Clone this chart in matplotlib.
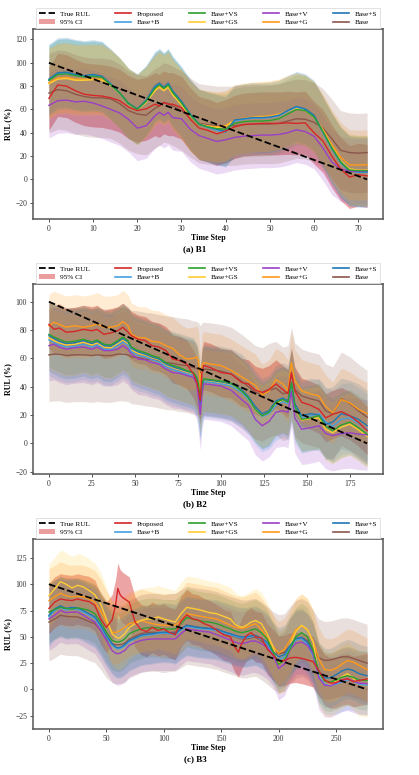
import numpy as np
import matplotlib
matplotlib.use("Agg")
import matplotlib.pyplot as plt
from matplotlib.lines import Line2D
from matplotlib.patches import Patch

plt.rcParams['font.family'] = 'serif'
plt.rcParams['font.serif'] = ['Liberation Serif', 'DejaVu Serif']

# ---- data (RUL in %) ----
labels = ['Proposed', 'Base+VS', 'Base+V', 'Base+S', 'Base+B', 'Base+GS', 'Base+G', 'Base']
colors = ['#d62728', '#2ca02c', '#9a3fc8', '#1f77b4', '#45a0e0', '#ffcc33', '#ff9a1a', '#8c564b']

# B1
b1_t = [0, 2, 4, 6, 8, 10, 12, 14, 16, 18, 20, 22, 24, 25, 26, 27, 28, 30, 32, 34, 36, 38, 40,
        42, 44, 46, 48, 50, 52, 54, 56, 58, 60, 62, 64, 66, 68, 70, 72]
b1_proposed = [69.5, 81, 80, 76, 73, 72, 71.5, 70, 67.5, 62, 59, 60.5, 64.5, 63, 66, 64.5, 64.5, 61.5, 51.5, 44,
               42, 39, 41.5, 45, 47, 47.5, 48, 48, 48, 48.5, 48, 48.5, 40, 33, 20, 9, 2, 4, 3]
b1_vs = [85, 90, 90.5, 89, 88, 88.5, 87.5, 81, 74, 65, 60, 67, 78, 81, 78, 81, 74.5, 65.5, 55, 47,
         45, 43.5, 43, 48, 49.5, 50, 50, 50.5, 52, 56, 60, 59, 53.5, 41, 27, 15, 8, 7.5, 7.5]
b1_v = [63.5, 67.5, 68, 66.5, 67, 65.5, 63, 60, 57, 51.5, 44, 46, 54.5, 57.5, 55, 57.5, 53, 52, 43, 37.5,
        35, 32.5, 34, 36, 37, 37.5, 38, 38, 38.5, 40, 42.5, 41, 37, 27, 15, 9, 7, 7, 7]
b1_s = [86, 91.5, 92, 90, 89, 90, 88.5, 82, 74.5, 65.5, 60.5, 68, 80, 82.5, 79, 82.5, 76, 67, 56, 47.5,
        45, 43, 41, 51, 52, 53, 53, 53.5, 55, 59, 62.5, 60.5, 55, 41, 27, 15, 7, 6.5, 6.5]
b1_b = [85, 90.5, 91, 89.5, 88, 89, 88, 81, 74, 65, 60, 67, 79, 81.5, 78, 81.5, 75, 66, 55, 47,
        44.5, 42, 40.5, 50, 51.5, 52.5, 52.5, 53, 54.5, 58.5, 62, 60, 54, 40, 26, 14, 7.5, 6, 6]
b1_gs = [82, 86, 86.5, 85, 85, 85.5, 85, 80.5, 74, 65, 59.5, 66, 76, 79, 76, 79, 72.5, 64, 54, 47,
         45.5, 44.5, 45.5, 50.5, 52, 53, 53.5, 54, 55.5, 58.5, 61, 59, 53.5, 42, 28, 16, 9, 8, 8]
b1_g = [83, 87, 87.5, 86, 86, 86, 86, 81.5, 74.5, 65.5, 60, 67, 77, 80, 77, 80, 73, 64.5, 54.5, 47.5,
        46, 45, 46, 51, 52.5, 53.5, 54, 54.5, 56, 59, 61.5, 59.5, 54, 43, 30, 19, 12.5, 12.3, 12.5]
b1_base = [74, 77, 76, 73, 71, 70, 70, 69, 65, 59, 56, 55, 61, 63, 66, 65, 63, 59, 53, 48,
           47, 46, 46, 46, 47, 47.5, 47.5, 47.5, 48, 50, 52, 51.5, 49, 44, 35, 25, 23, 22.5, 23]
b1_ci = [27, 30, 28, 30, 30, 30, 30, 34]   # half width of 95% CI per model

# B2
b2_t = [0, 3, 6, 10, 15, 20, 25, 28, 32, 36, 40, 43, 46, 48, 52, 56, 60, 64, 68, 72,
        76, 80, 84, 86, 87, 88, 89, 90, 94, 100, 106, 112, 116, 120, 124, 128, 132, 136, 139, 141,
        143, 147, 152, 157, 161, 165, 170, 175, 180, 185]
b2_proposed = [84, 80.5, 81.5, 78.5, 79, 80.5, 79.5, 80.5, 77, 78, 79.5, 82, 78.5, 76, 73.5, 72.5, 69, 68, 65.5, 59.5,
               58.5, 56, 49, 43, 37, 30.5, 50, 55, 53.5, 50, 49, 43, 42, 37.5, 36, 38, 42, 38, 35, 50,
               37, 29, 27, 24, 18, 20.5, 22.5, 19.5, 15, 9]
b2_vs = [77, 75, 73.5, 71.5, 72, 73.5, 71.5, 73, 70, 69.5, 72.5, 75, 72.5, 68, 65.5, 64, 62, 60.5, 57, 55,
         53.5, 51.5, 50, 46.5, 42, 30, 42, 45.5, 45, 44, 42.5, 37, 32, 24, 19.5, 22, 29, 31, 29, 43,
         26, 17, 18, 19.5, 12, 9, 13, 15, 11, 6.5]
b2_v = [69, 70, 68, 66.5, 67.5, 68, 66.5, 68, 65.5, 65.5, 66.5, 69, 66.5, 63, 59.5, 59, 57, 56, 52.5, 50,
        49.5, 48, 46.5, 42, 32, 20.5, 35, 42, 41.5, 40.5, 37.5, 31, 27, 17, 12.5, 15.5, 22, 23, 22, 37,
        18, 10, 11, 12.5, 7, 5.5, 7, 7.5, 6.5, 6]
b2_s = [76, 74, 72, 70.5, 71, 72.5, 70.5, 72, 69, 68.5, 71.5, 74, 71.5, 67, 64.5, 63, 61, 59.5, 56, 54,
        52.5, 51, 49.5, 45.5, 38, 28, 40, 45, 44.5, 43.5, 42, 38, 33, 26, 21, 23, 30, 32, 30, 43,
        28, 19.5, 21, 20, 13.5, 15, 21, 19.5, 17, 12.5]
b2_b = [73, 71, 69.5, 68, 68.5, 70, 68, 69.5, 66.5, 66, 69, 71.5, 69, 64.5, 62, 61, 59, 57.5, 54, 52,
        50.5, 49, 48, 44, 36, 27, 39, 43.5, 43, 42, 40.5, 36, 31, 24, 19, 21, 27, 29.5, 28, 40,
        25, 18, 19.5, 21, 15, 12, 17, 18, 14, 10]
b2_gs = [74.5, 72.5, 71, 69.5, 70, 71.5, 69.5, 71, 68, 67.5, 70.5, 73, 70.5, 66, 63.5, 62.5, 60.5, 59, 55.5, 53.5,
         52, 50.5, 49, 45.5, 40, 29, 41, 44.5, 44, 43, 41.5, 36.5, 31, 23.5, 19, 21.5, 28, 30, 28, 41,
         25, 16.5, 17.5, 18, 10, 7.5, 11.5, 13.5, 9.5, 5]
b2_g = [83, 85.5, 84, 82, 83, 82, 83, 84.5, 82, 82, 83, 86, 83, 77, 74.5, 74.5, 72, 71.5, 69, 67,
        62.5, 59.5, 60, 61, 58, 40, 55, 57, 56, 55, 51.5, 47, 44, 41, 34, 37, 45, 42, 37, 57,
        44, 37, 35, 33.5, 26, 21.5, 31, 28.5, 24, 21]
b2_base = [62.5, 63, 63, 62, 62.5, 62.5, 62, 62.5, 62, 62, 63, 63, 62.5, 61, 60.5, 59.5, 59, 58, 57, 56.5,
           55.5, 55, 53.5, 53, 52, 50, 52, 52.5, 52, 51, 49, 44, 40, 36, 34.5, 37.5, 39, 35, 36, 49,
           38, 33.5, 31.5, 30, 23, 21, 31.5, 28, 23, 18.5]
b2_ci = [17, 23, 25, 25, 25, 22, 22, 33]

# B3
b3_t = [0, 5, 10, 15, 20, 25, 30, 35, 40, 45, 50, 55, 58, 60, 62, 64, 66, 70, 75, 80,
        85, 90, 95, 100, 105, 110, 115, 120, 125, 130, 135, 140, 146, 152, 158, 162, 165, 168, 172, 176,
        180, 185, 190, 195, 200, 205, 210, 215, 220, 225, 230, 235, 240, 245, 250, 255, 260, 265, 270, 277]
b3_proposed = [77, 83, 86, 85, 84.5, 86, 84.5, 83.5, 80, 67, 59, 66, 80, 96, 90, 87.5, 86, 83, 64, 57,
               55, 59, 56, 57.5, 54, 52, 65, 71, 67, 66, 62.5, 60.5, 56.5, 52, 50, 40, 35.5, 44, 51, 54,
               50, 49, 38.5, 33, 27, 27.5, 30, 30.5, 29.5, 28, 26.5, 18, 9, 6, 6.5, 9, 10, 7.5, 8.5, 10]
b3_vs = [73.5, 76, 78, 77, 76.5, 77.5, 76.5, 75, 72, 64, 54.5, 46.5, 45.5, 45, 45.5, 46.5, 48, 53, 55.5, 57.5,
         58.5, 59, 58.5, 57.5, 57.5, 57.5, 62.5, 68.5, 67, 65.5, 64.5, 64, 62.5, 60, 57.5, 55.5, 54.5, 54, 55, 56.5,
         57.5, 54, 48, 36, 24, 28, 38.5, 50, 54, 50, 37, 16, 8, 7, 9, 11.5, 13, 11.5, 9, 8.5]
b3_v = [67, 70.5, 75, 73, 73.5, 73.5, 70.5, 67, 64, 56, 46.5, 37, 34.5, 34, 34.5, 36, 37, 42, 44.5, 46.5,
        47.5, 48, 48, 48, 48, 48, 53, 57.5, 56.5, 56, 55, 54.5, 52, 49.5, 47, 45, 44, 43.5, 44.5, 46,
        46, 43.5, 40, 33, 20, 24, 38, 44, 45, 42, 34, 11, 4, 3.5, 6, 9, 10, 8, 6, 5.5]
b3_s = [70.5, 76.5, 79.5, 77, 78, 77.5, 75, 72, 69, 61, 51.5, 43.5, 40.5, 39.5, 40, 41, 42.5, 46.5, 49, 51.5,
        52.5, 53, 54, 54.5, 54, 53, 57.5, 61, 60, 59, 58.5, 58, 57.5, 55, 53, 51.5, 50.5, 50, 50, 51,
        51.5, 48.5, 45, 36, 31, 33, 42, 48.5, 49.5, 45, 35, 17, 11, 11, 14, 17.5, 19.5, 18, 15, 13]
b3_b = [69, 75, 78, 75.5, 76.5, 76, 73.5, 70.5, 67.5, 59.5, 50, 42, 39.5, 38.5, 39, 40, 41.5, 45.5, 48, 50.5,
        51.5, 52, 53, 53.5, 53, 52, 56.5, 60, 59, 58, 57.5, 57, 56, 54, 52, 50.5, 49.5, 49, 49, 50,
        50.5, 47.5, 43, 34, 28, 31, 40, 47, 48, 43, 32, 13, 5, 3.5, 5, 7, 9, 8, 5, 4]
b3_gs = [89, 95.5, 102.5, 100, 96.5, 99, 97.5, 94, 90, 81.5, 67, 53, 50, 49, 49, 51, 53, 59, 62.5, 65.5,
         67, 67, 69, 67, 65.5, 64, 72, 78, 77, 76, 74.5, 73, 72, 69.5, 67, 62, 60, 59, 61, 64,
         65.5, 62.5, 53, 41, 25, 28, 43, 55, 61, 57, 45, 14, 5, 4, 8, 12, 15, 10.5, 5, 4]
b3_g = [84.5, 88, 91.5, 89, 88, 88.5, 88, 86, 83, 75, 64, 54.5, 54, 55, 56, 57.5, 59, 62.5, 64, 65.5,
        64, 62.5, 61.5, 61, 61, 61, 65.5, 72, 71, 70, 69, 68, 67, 64, 61, 59, 58.5, 58, 59, 61,
        62.5, 57, 49, 41, 34.5, 38, 47, 57, 60.5, 56.5, 46, 29, 19, 18, 20, 24, 27.5, 26, 23, 19]
b3_base = [64, 67, 70.5, 69.5, 69, 69, 67, 64.5, 62.5, 56, 48, 43.5, 42.5, 42.5, 42.5, 43, 44, 48, 50.5, 53,
           54, 54.5, 54, 53, 54, 54.5, 57.5, 61, 60, 59, 58.5, 57.5, 56, 53.5, 51.5, 50, 49, 48, 48, 49,
           49.5, 46, 42, 37, 34, 35, 42, 47.5, 49.5, 46.5, 38, 30, 27.5, 28, 29.5, 31, 31, 29.5, 27.5, 25]
b3_ci = [24, 28, 30, 28, 28, 30, 30, 37]

panels = [
    (b1_t, [b1_proposed, b1_vs, b1_v, b1_s, b1_b, b1_gs, b1_g, b1_base], b1_ci,
     (-34, 129), np.arange(-20, 121, 20), np.arange(0, 71, 10), '(a) B1'),
    (b2_t, [b2_proposed, b2_vs, b2_v, b2_s, b2_b, b2_gs, b2_g, b2_base], b2_ci,
     (-21.6, 112.5), np.arange(-20, 101, 20), np.arange(0, 176, 25), '(b) B2'),
    (b3_t, [b3_proposed, b3_vs, b3_v, b3_s, b3_b, b3_gs, b3_g, b3_base], b3_ci,
     (-37.6, 143), np.arange(-25, 126, 25), np.arange(0, 251, 50), '(c) B3'),
]

fig = plt.figure(figsize=(4.19, 7.75), dpi=100)
tops = [29, 284, 539]
bottoms = [219, 474, 729]
W, H = 419.0, 775.0

for i, (t, series, ci, ylim, yt, xt, cap) in enumerate(panels):
    ax = fig.add_axes([33 / W, 1 - bottoms[i] / H, 350 / W, (bottoms[i] - tops[i]) / H])
    t = np.array(t, dtype=float)
    n = int(t[-1])

    # CI bands
    for k, (y, c) in enumerate(zip(series, colors)):
        y = np.array(y)
        a = 0.42 if k == 0 else 0.19
        ax.fill_between(t, y - ci[k], y + ci[k], color=c, alpha=a, lw=0)

    # true RUL: linear from 100 down to 0
    ax.plot([0, n], [100, 0], color='black', ls='--', lw=1.3, zorder=5)
    for k in range(len(series) - 1, -1, -1):
        ax.plot(t, series[k], color=colors[k], lw=1.0, zorder=4)

    ax.set_xlim(-0.05 * n, 1.05 * n)
    ax.set_ylim(*ylim)
    ax.set_yticks(yt)
    ax.set_xticks(xt)
    ax.tick_params(labelsize=5.5, length=2.5, width=0.6, pad=1.8, colors='#333333')
    for sp in ax.spines.values():
        sp.set_color('#555555')
        sp.set_linewidth(1.1)
    ax.set_xlabel('Time Step', fontsize=5.8, fontweight='bold', labelpad=0.5)
    ax.set_ylabel('RUL (%)', fontsize=5.8, fontweight='bold', labelpad=2)

    handles = [Line2D([], [], color='black', ls='--', lw=1.3),
               Patch(facecolor=colors[0], alpha=0.45, lw=0),
               Line2D([], [], color=colors[0], lw=1.2),
               Line2D([], [], color=colors[4], lw=1.2),
               Line2D([], [], color=colors[1], lw=1.2),
               Line2D([], [], color=colors[5], lw=1.2),
               Line2D([], [], color=colors[2], lw=1.2),
               Line2D([], [], color=colors[6], lw=1.2),
               Line2D([], [], color=colors[3], lw=1.2),
               Line2D([], [], color=colors[7], lw=1.2)]
    names = ['True RUL', '95% CI', 'Proposed', 'Base+B', 'Base+VS', 'Base+GS',
             'Base+V', 'Base+G', 'Base+S', 'Base']
    leg = ax.legend(handles, names, ncol=5, loc='lower left', mode='expand',
                    bbox_to_anchor=(0.008, 1.005, 0.984, 0.1), borderaxespad=0,
                    fontsize=5.2, handlelength=2.2, labelspacing=0.35, fancybox=False,
                    edgecolor='#dddddd', framealpha=1)
    leg.get_frame().set_linewidth(0.6)

    fig.text(195 / W, 1 - (bottoms[i] + 30) / H, cap, fontsize=6.5, fontweight='bold',
             ha='center', va='center')

fig.savefig('out.png', dpi=100)
